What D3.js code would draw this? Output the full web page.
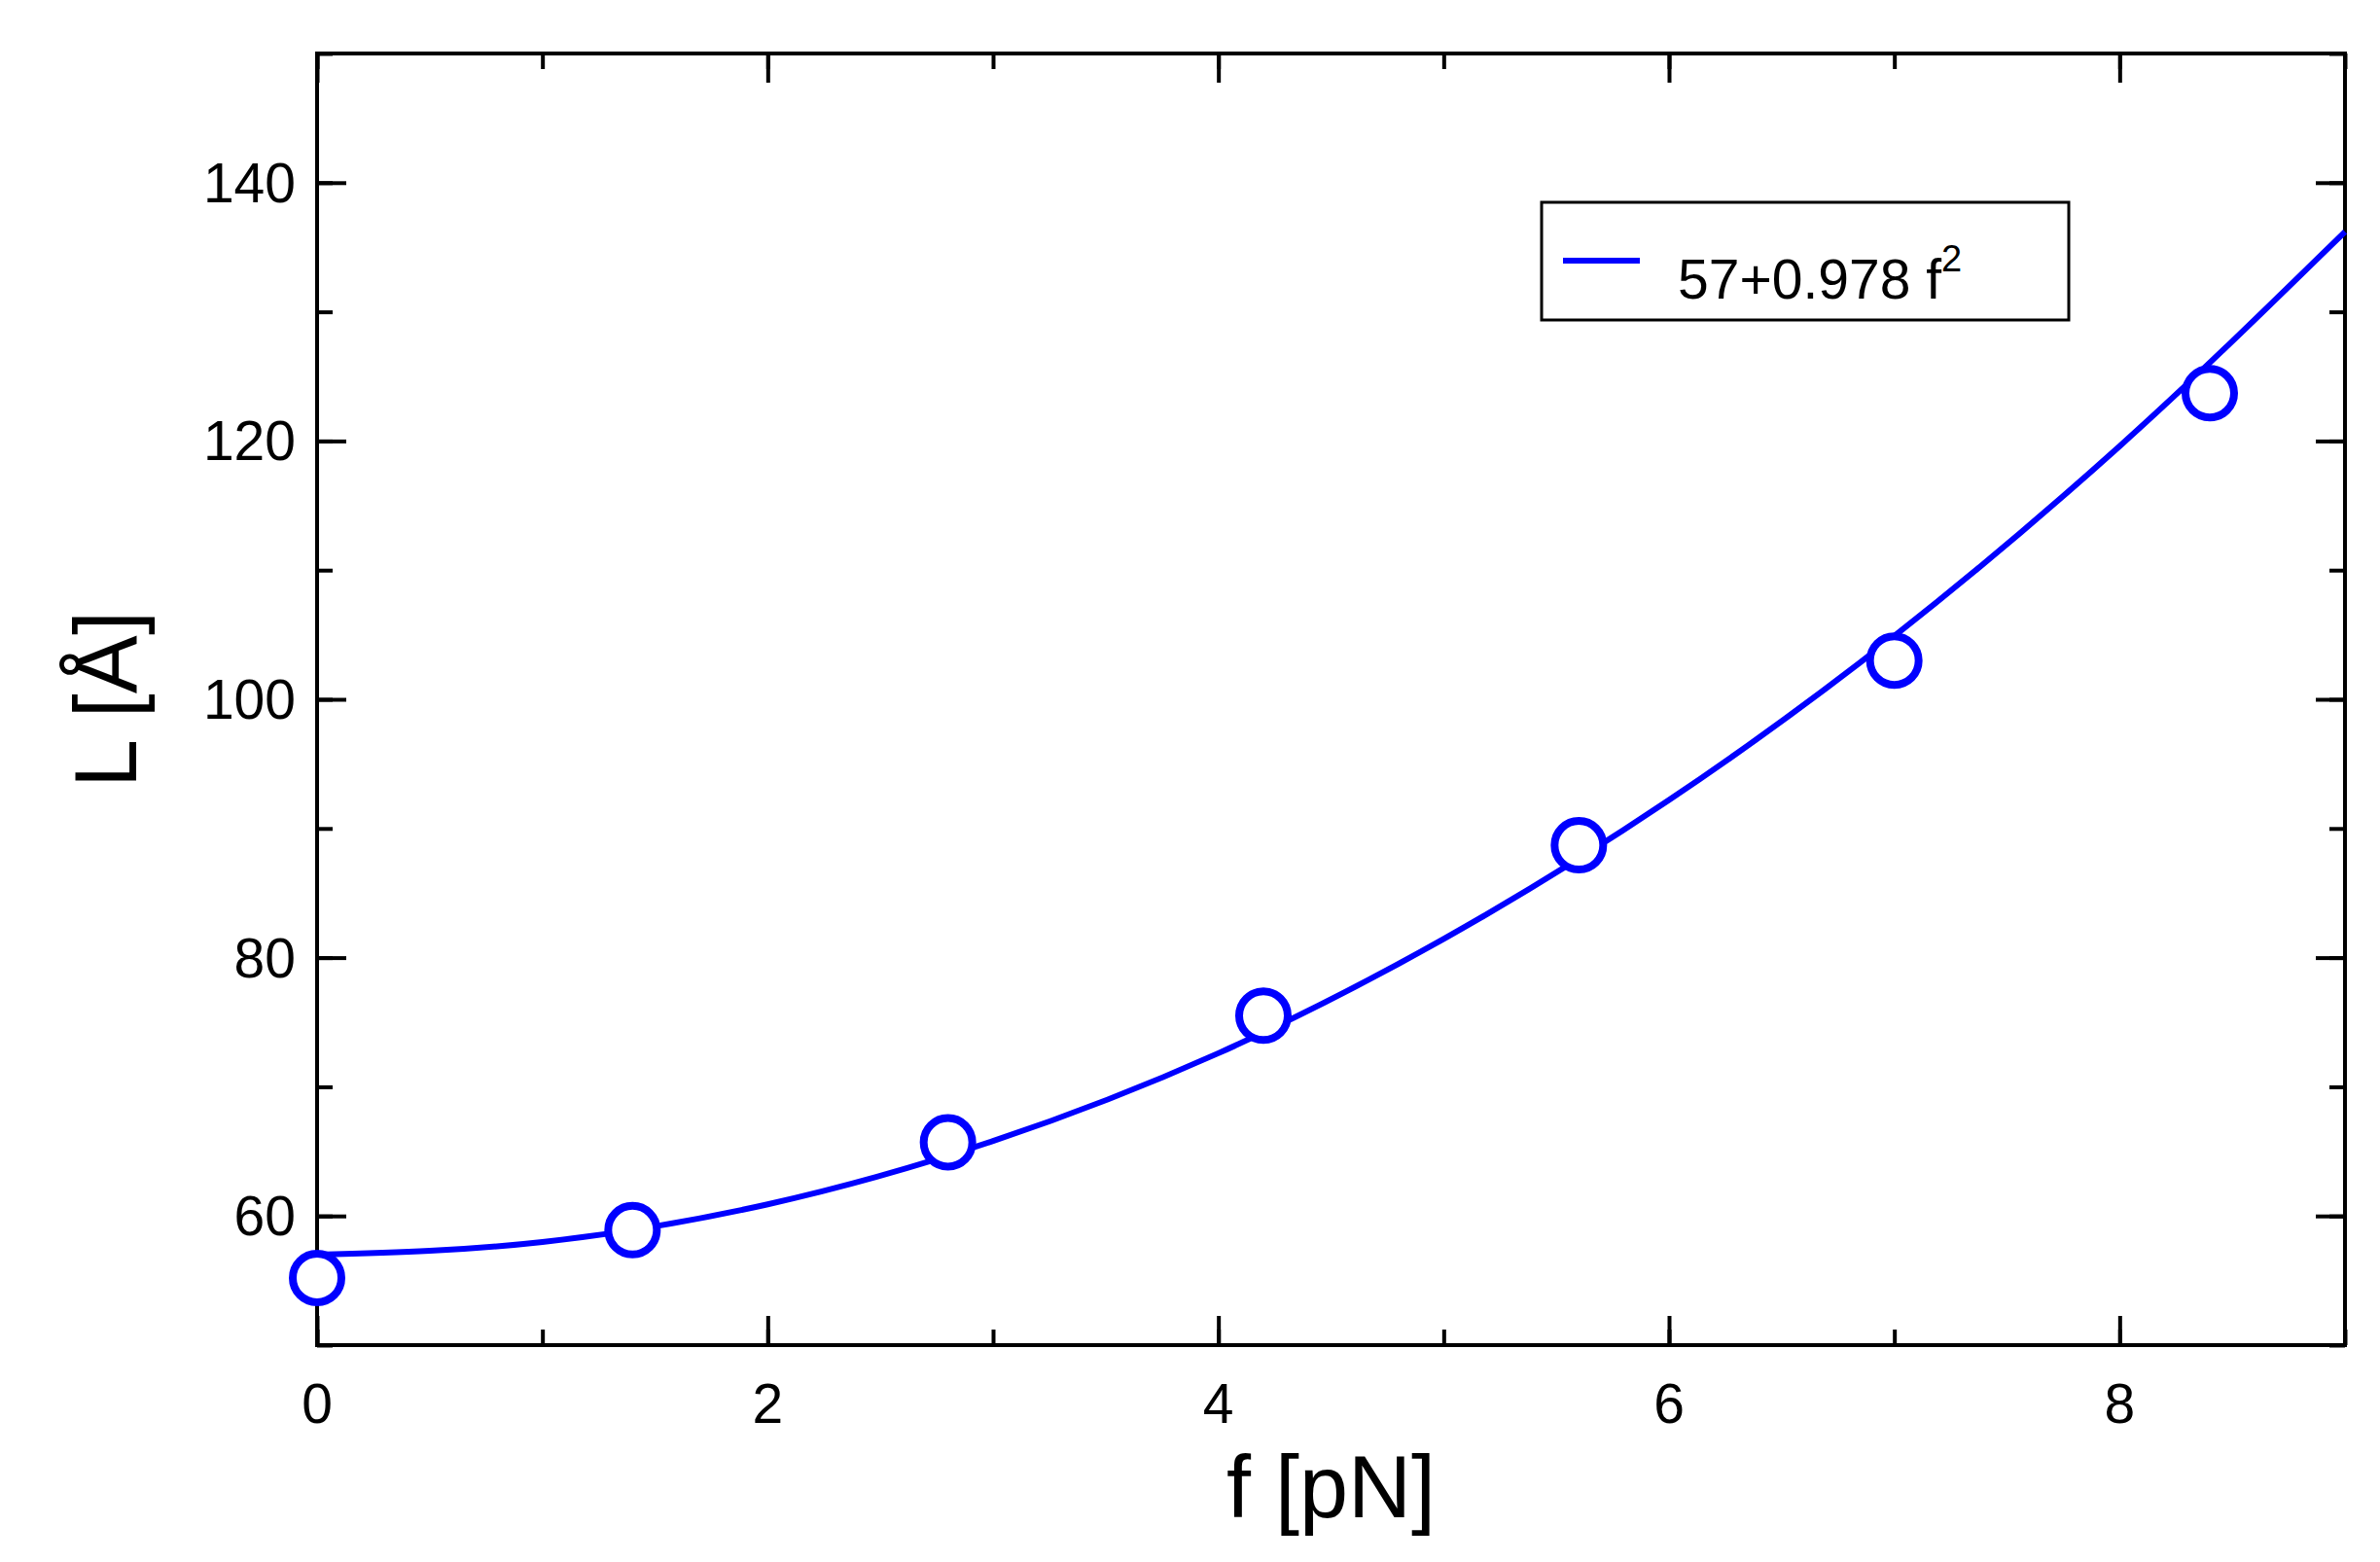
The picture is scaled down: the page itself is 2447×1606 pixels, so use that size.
<!DOCTYPE html>
<html><head><meta charset="utf-8">
<script src="https://cdn.jsdelivr.net/npm/d3@7"></script>
<style>body{margin:0;background:#fff}</style>
</head><body>
<svg id="chart" width="2447" height="1606"></svg>
<script>
// measured points
const forceVals = [0, 1.4, 2.8, 4.2, 5.6, 7.0, 8.4]
const lengthVals = [55.2, 58.9, 65.7, 75.5, 88.7, 103.0, 123.7]
// fit curve
const fitX = [0, 1, 2, 3, 4, 5, 6, 7, 8, 9]
const fitY = [57, 57.98, 60.9, 65.8, 72.6, 81.45, 92.2, 104.9, 119.6, 136.2]
const xTicks = [0, 2, 4, 6, 8]
const yTicks = [60, 80, 100, 120, 140]
const legendLabel = '57+0.978 f'

const m = { left: 326, right: 2411, top: 55, bottom: 1383 }
const blue = '#0000ff'
const font = 'Liberation Sans, Arial, sans-serif'
const svg = d3.select('#chart')
const x = d3.scaleLinear().domain([0, 9]).range([m.left, m.right])
const y = d3.scaleLinear().domain([50, 150]).range([m.bottom, m.top])

svg.append('rect').attr('x', m.left).attr('y', m.top)
    .attr('width', m.right - m.left).attr('height', m.bottom - m.top)
    .attr('fill', 'none').attr('stroke', '#000').attr('stroke-width', 4)

// ticks on all four sides, pointing inwards
const tick = (g, axis) => g.call(axis).call(s => { s.select('.domain').remove(); s.selectAll('line').attr('stroke-width', 4) })
const xMinor = d3.range(0, 9.01, 1)
const yMinor = d3.range(50, 150.1, 10)
svg.append('g').attr('transform', `translate(0,${m.bottom})`).call(tick, d3.axisTop(x).tickValues(xMinor).tickSize(16).tickFormat(''))
svg.append('g').attr('transform', `translate(0,${m.bottom})`).call(tick, d3.axisTop(x).tickValues(xTicks).tickSize(30).tickFormat(''))
svg.append('g').attr('transform', `translate(0,${m.top})`).call(tick, d3.axisBottom(x).tickValues(xMinor).tickSize(16).tickFormat(''))
svg.append('g').attr('transform', `translate(0,${m.top})`).call(tick, d3.axisBottom(x).tickValues(xTicks).tickSize(30).tickFormat(''))
svg.append('g').attr('transform', `translate(${m.left},0)`).call(tick, d3.axisRight(y).tickValues(yMinor).tickSize(16).tickFormat(''))
svg.append('g').attr('transform', `translate(${m.left},0)`).call(tick, d3.axisRight(y).tickValues(yTicks).tickSize(30).tickFormat(''))
svg.append('g').attr('transform', `translate(${m.right},0)`).call(tick, d3.axisLeft(y).tickValues(yMinor).tickSize(16).tickFormat(''))
svg.append('g').attr('transform', `translate(${m.right},0)`).call(tick, d3.axisLeft(y).tickValues(yTicks).tickSize(30).tickFormat(''))

svg.selectAll('.xl').data(xTicks).join('text')
    .attr('x', d => x(d)).attr('y', m.bottom + 80).attr('text-anchor', 'middle')
    .attr('font-family', font).attr('font-size', 57).text(d => d)
svg.selectAll('.yl').data(yTicks).join('text')
    .attr('x', m.left - 22).attr('y', d => y(d)).attr('dy', '0.35em').attr('text-anchor', 'end')
    .attr('font-family', font).attr('font-size', 57).text(d => d)

svg.append('text').attr('x', (m.left + m.right) / 2).attr('y', 1560).attr('text-anchor', 'middle')
    .attr('font-family', font).attr('font-size', 90).text('f [pN]')
svg.append('text').attr('transform', `translate(140,${(m.top + m.bottom) / 2}) rotate(-90)`).attr('text-anchor', 'middle')
    .attr('font-family', font).attr('font-size', 90).text('L [Å]')

svg.append('path').datum(fitX.map((d, i) => [d, fitY[i]]))
    .attr('d', d3.line().x(d => x(d[0])).y(d => y(d[1])).curve(d3.curveMonotoneX))
    .attr('fill', 'none').attr('stroke', blue).attr('stroke-width', 6)

svg.selectAll('.pt').data(forceVals).join('circle')
    .attr('cx', d => x(d)).attr('cy', (d, i) => y(lengthVals[i])).attr('r', 25)
    .attr('fill', '#fff').attr('stroke', blue).attr('stroke-width', 8)

// legend
svg.append('rect').attr('x', 1585).attr('y', 208).attr('width', 542).attr('height', 121)
    .attr('fill', '#fff').attr('stroke', '#000').attr('stroke-width', 3)
svg.append('line').attr('x1', 1607).attr('x2', 1686).attr('y1', 268).attr('y2', 268)
    .attr('stroke', blue).attr('stroke-width', 6)
const lt = svg.append('text').attr('x', 1725).attr('y', 307).attr('font-family', font).attr('font-size', 57).text(legendLabel)
lt.append('tspan').attr('dy', -28).attr('font-size', 38).text('2')
</script>
</body></html>
